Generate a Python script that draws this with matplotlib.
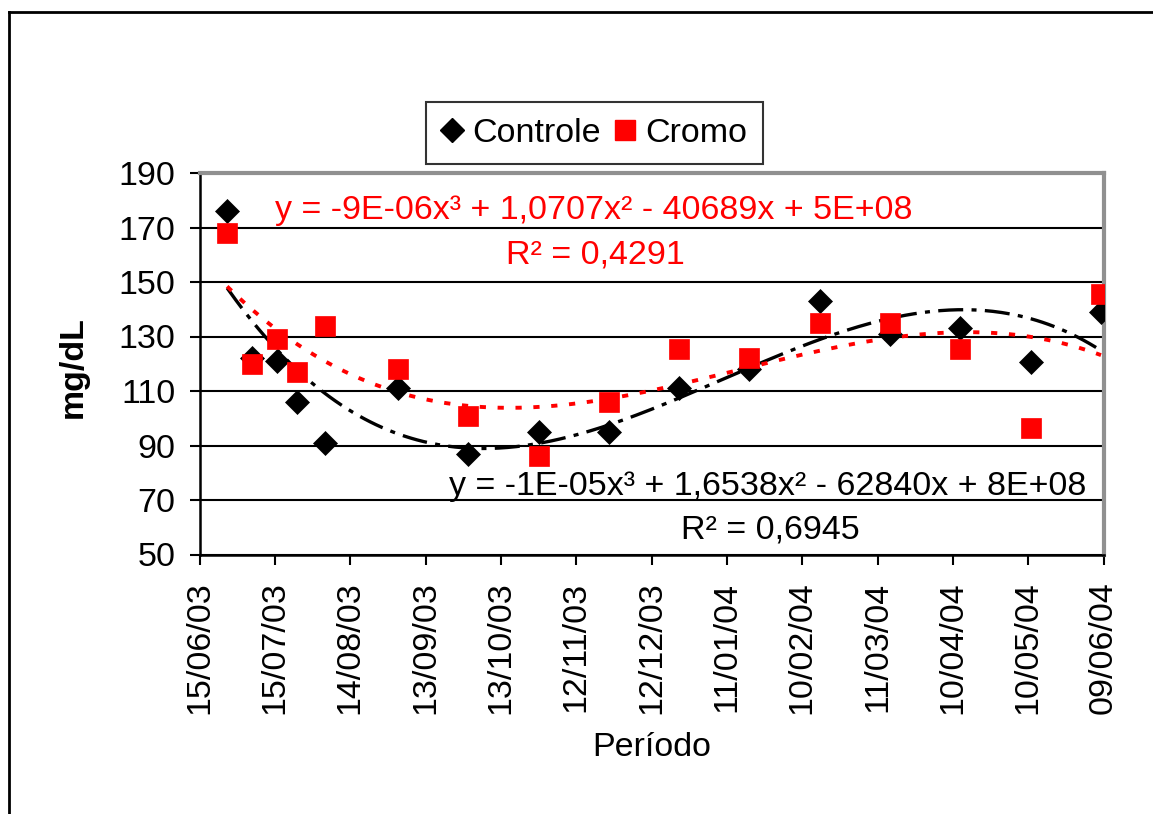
import numpy as np
import matplotlib
matplotlib.use("Agg")
import matplotlib.pyplot as plt
import matplotlib.dates as mdates
from matplotlib.lines import Line2D
from datetime import datetime

plt.rcParams['font.family'] = ['Liberation Sans', 'DejaVu Sans']

# ---- data ----
dates = ["26/06/2003", "06/07/2003", "16/07/2003", "24/07/2003", "04/08/2003",
         "02/09/2003", "30/09/2003", "28/10/2003", "25/11/2003", "23/12/2003",
         "20/01/2004", "17/02/2004", "16/03/2004", "13/04/2004", "11/05/2004",
         "08/06/2004"]
controle = [176, 122, 121, 106, 91, 111, 87, 95, 95, 111, 118, 143, 131, 133, 120.5, 139]
cromo = [168, 120, 129, 117, 134, 118, 101, 86, 106, 125.5, 122, 135, 135, 125.5, 96.5, 145.5]
tick_labels = ["15/06/03", "15/07/03", "14/08/03", "13/09/03", "13/10/03", "12/11/03",
               "12/12/03", "11/01/04", "10/02/04", "11/03/04", "10/04/04", "10/05/04",
               "09/06/04"]
y_ticks = [50, 70, 90, 110, 130, 150, 170, 190]
eq_cromo = "y = -9E-06x\u00b3 + 1,0707x\u00b2 - 40689x + 5E+08"
r2_cromo = "R\u00b2 = 0,4291"
eq_controle = "y = -1E-05x\u00b3 + 1,6538x\u00b2 - 62840x + 8E+08"
r2_controle = "R\u00b2 = 0,6945"

# ---- figure ----
fig = plt.figure(figsize=(11.53, 8.14), dpi=100)
ax = fig.add_axes([199.5 / 1153, 1 - 554.5 / 814, 904 / 1153, 381.5 / 814])

xd = np.array([mdates.date2num(datetime.strptime(d, "%d/%m/%Y")) for d in dates])
xt = [mdates.date2num(datetime.strptime(t, "%d/%m/%y")) for t in tick_labels]

fs = 24.5

# trendlines (cubic polynomial fits)
x0 = xd[0]
xs = np.linspace(xd[0], xd[-1], 300)
pc = np.polyfit(xd - x0, controle, 3)
pr = np.polyfit(xd - x0, cromo, 3)
ax.plot(xs, np.polyval(pc, xs - x0), color='black', lw=2.4,
        linestyle=(0, (7.5, 2.5, 1.5, 2.5)), zorder=3)
ax.plot(xs, np.polyval(pr, xs - x0), color='#ff0000', lw=2.8,
        linestyle=(0, (1.6, 3.0)), zorder=3)

ms_d, ms_s = 12.5, 15
ax.plot(xd, controle, linestyle='none', marker='D', ms=ms_d, color='black',
        mec='black', mew=0.5, zorder=4)
ax.plot(xd, cromo, linestyle='none', marker='s', ms=ms_s, color='#ff0000',
        mec='#ff0000', mew=0.5, zorder=4)

ax.set_xlim(xt[0], xt[-1])
ax.set_ylim(50, 190)
ax.set_xticks(xt)
ax.set_xticklabels(tick_labels, rotation=90, fontsize=fs)
ax.set_yticks(y_ticks)
ax.set_yticklabels([str(v) for v in y_ticks], fontsize=fs)
ax.tick_params(axis='both', direction='out', length=7.5, width=1.5, color='black')
ax.tick_params(axis='x', pad=12)
ax.tick_params(axis='y', pad=10)

ax.yaxis.grid(True, color='black', lw=1.5)
ax.set_axisbelow(True)

for s in ['left', 'bottom']:
    ax.spines[s].set_color('black')
    ax.spines[s].set_linewidth(1.8)
for s in ['top', 'right']:
    ax.spines[s].set_color('#909090')
    ax.spines[s].set_linewidth(3)

ax.set_xlabel("Período", fontsize=fs, va='center')
ax.xaxis.set_label_coords(0.5006, (554.5 - 748) / 381.5)
ax.set_ylabel("mg/dL", fontsize=fs, fontweight='bold', va='center')
ax.yaxis.set_label_coords((73 - 199.5) / 904, (554.5 - 367) / 381.5)

ax.text(0.4364, 0.903, eq_cromo, transform=ax.transAxes, color='#ff0000',
        fontsize=fs, ha='center', va='center')
ax.text(0.4375, 0.785, r2_cromo, transform=ax.transAxes, color='#ff0000',
        fontsize=fs, ha='center', va='center')
ax.text(0.629, 0.177, eq_controle, transform=ax.transAxes, color='black',
        fontsize=fs, ha='center', va='center')
ax.text(0.631, 0.064, r2_controle, transform=ax.transAxes, color='black',
        fontsize=fs, ha='center', va='center')

handles = [Line2D([], [], linestyle='none', marker='D', ms=ms_d, color='black'),
           Line2D([], [], linestyle='none', marker='s', ms=ms_s, color='#ff0000')]
leg = fig.legend(handles, ["Controle", "Cromo"], ncol=2, fontsize=fs,
                 loc='center', bbox_to_anchor=(594.5 / 1153, 1 - 133 / 814),
                 frameon=True, fancybox=False, edgecolor='black',
                 handlelength=0.6, handletextpad=0.3, columnspacing=0.4,
                 borderpad=0.45, borderaxespad=0)
leg.get_frame().set_linewidth(1.5)

# outer chart border (left and top visible, right/bottom run off the image)
fig.add_artist(Line2D([9 / 1153, 9 / 1153], [0, 1 - 12 / 814], color='black', lw=2,
                      transform=fig.transFigure))
fig.add_artist(Line2D([9 / 1153, 1], [1 - 12 / 814, 1 - 12 / 814], color='black', lw=2,
                      transform=fig.transFigure))

fig.savefig("out.png", dpi=100)
